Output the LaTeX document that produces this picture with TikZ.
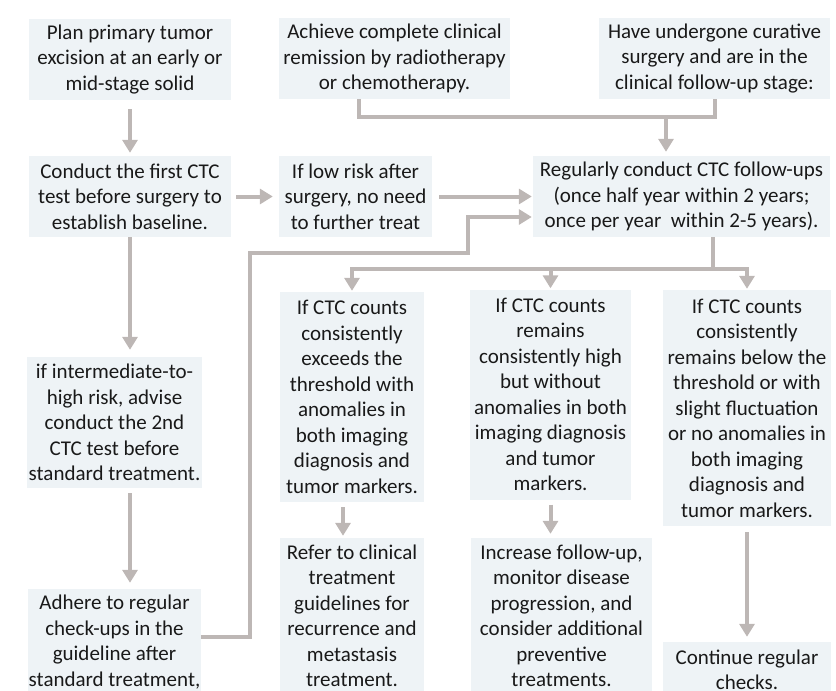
\documentclass[tikz,border=0pt]{standalone}
\usepackage{fontspec}
\setmainfont{Carlito}
\usetikzlibrary{arrows.meta}

\definecolor{boxfill}{HTML}{EEF3F6}
\definecolor{linkgray}{HTML}{BDB7B5}

\begin{document}
\begin{tikzpicture}[x=1pt, y=-1pt,
  every node/.style={font=\fontsize{21}{25.5}\selectfont, text=black!90},
  stage/.style={fill=boxfill, align=center, inner xsep=1pt, inner ysep=2pt},
  link/.style={draw=linkgray, line width=4pt},
  flow/.style={link, -{Triangle[width=15pt,length=13pt]}}]
  \useasboundingbox (0,0) rectangle (836,691);

  % top row
  \node[stage, minimum width=202pt, minimum height=81pt] (plan) at (130,59.5)
    {Plan primary tumor\\excision at an early or\\mid-stage solid};
  \node[stage, minimum width=231pt, minimum height=81pt] (achieve) at (394.5,58.5)
    {Achieve complete clinical\\remission by radiotherapy\\or chemotherapy.};
  \node[stage, minimum width=231pt, minimum height=81pt] (curative) at (714.5,58.5)
    {Have undergone curative\\surgery and are in the\\clinical follow-up stage:};

  % second row
  \node[stage, minimum width=202pt, minimum height=81pt] (baseline) at (130,196.5)
    {Conduct the first CTC\\test before surgery to\\establish baseline.};
  \node[stage, minimum width=153pt, minimum height=81pt] (lowrisk) at (355.5,196.5)
    {If low risk after\\surgery, no need\\to further treat};
  \node[stage, minimum width=297pt, minimum height=81pt] (followup) at (681.5,196.5)
    {Regularly conduct CTC follow-ups\\(once half year within 2 years;\\once per year\ \ within 2-5 years).};

  % left column
  \node[stage, minimum width=175pt, minimum height=131pt] (intermediate) at (114.5,422.5)
    {if intermediate-to-\\high risk, advise\\conduct the 2nd\\CTC test before\\standard treatment.};
  \node[stage, minimum width=171pt, minimum height=106pt] (adhere) at (114.5,642)
    {Adhere to regular\\check-ups in the\\guideline after\\standard treatment,};

  % follow-up outcomes
  \node[stage, minimum width=144pt, minimum height=210pt] (exceeds) at (352,397)
    {If CTC counts\\consistently\\exceeds the\\threshold with\\anomalies in\\both imaging\\diagnosis and\\tumor markers.};
  \node[stage, minimum width=144pt, minimum height=156pt] (refer) at (352,616)
    {Refer to clinical\\treatment\\guidelines for\\recurrence and\\metastasis\\treatment.};
  \node[stage, minimum width=161pt, minimum height=210pt] (remains) at (550.5,394.5)
    {If CTC counts\\remains\\consistently high\\but without\\anomalies in both\\imaging diagnosis\\and tumor\\markers.};
  \node[stage, minimum width=181pt, minimum height=156pt] (increase) at (561.5,616)
    {Increase follow-up,\\monitor disease\\progression, and\\consider additional\\preventive\\treatments.};
  \node[stage, minimum width=168pt, minimum height=236pt] (below) at (747,408)
    {If CTC counts\\consistently\\remains below the\\threshold or with\\slight fluctuation\\or no anomalies in\\both imaging\\diagnosis and\\tumor markers.};
  \node[stage, minimum width=168pt, minimum height=56pt] (continue) at (747,670)
    {Continue regular\\checks.};

  % connectors
  \draw[flow, shorten <=9pt, shorten >=3pt] (plan.south) -- (baseline.north);
  \draw[flow, shorten <=5pt, shorten >=6pt] (baseline.east) -- (lowrisk.west);
  \draw[flow, shorten <=7pt, shorten >=1pt] (lowrisk.east) -- (followup.west);
  \draw[flow, shorten >=7pt] (baseline.south) -- (baseline.south |- intermediate.north);
  \draw[flow, shorten <=5pt, shorten >=6pt] (baseline.south |- intermediate.south) -- (baseline.south |- adhere.north);

  \coordinate (back) at (468,253);
  \draw[flow, shorten >=1pt] ([yshift=5pt]adhere.east) -| (250,253) -- (back) |- ([yshift=-20.5pt]followup.west);

  \coordinate (join) at (666,117);
  \draw[link] ([xshift=-35.5pt]achieve.south) |- ([yshift=-18pt]curative.south) -- (curative.south);
  \draw[flow, shorten >=4pt] (join) -- (join |- followup.north);

  \coordinate (split) at (713,269);
  \draw[link] ([xshift=31.5pt]followup.south) -- (split);
  \draw[flow, shorten >=1pt] (split) -| (exceeds.north);
  \draw[flow, shorten >=1pt] (split) -| (below.north);
  \draw[flow, shorten >=1pt] (remains.north |- split) -- (remains.north);

  \draw[flow, shorten <=5pt, shorten >=2pt] ([xshift=-9pt]exceeds.south) -- ([xshift=-9pt]refer.north);
  \draw[flow, shorten <=5pt, shorten >=4pt] (remains.south) -- (remains.south |- increase.north);
  \draw[flow, shorten <=6pt, shorten >=5pt] (below.south) -- (continue.north);
\end{tikzpicture}
\end{document}
